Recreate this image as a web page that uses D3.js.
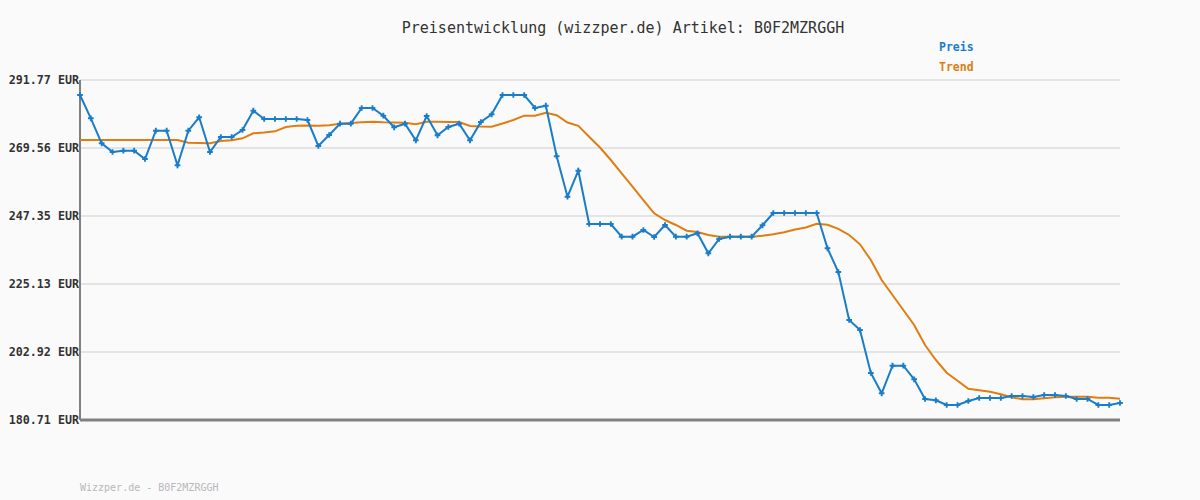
<!DOCTYPE html>
<html>
<head>
<meta charset="utf-8">
<script src="https://cdn.jsdelivr.net/npm/d3@7"></script>
<style>
  body { margin: 0; background: #fafafa; }
  svg { display: block; }
</style>
</head>
<body>
<div id="chart"></div>
<script>
// chart values
var title = "Preisentwicklung (wizzper.de) Artikel: B0F2MZRGGH";
var footer = "Wizzper.de - B0F2MZRGGH";
var yTicks = [180.71, 202.92, 225.13, 247.35, 269.56, 291.77];

var preis = [
  286.87, 279.26, 271.09, 268.25, 268.68, 268.68, 265.96, 275.21, 275.21, 263.91,
  275.21, 279.59, 268.25, 273.15, 273.15, 275.44, 281.74, 279.03, 279.03, 279.03,
  279.03, 278.70, 270.21, 273.80, 277.50, 277.50, 282.62, 282.62, 280.11, 276.32,
  277.50, 272.07, 280.01, 273.71, 276.42, 277.50, 272.07, 278.05, 280.57, 286.87,
  286.87, 286.87, 282.62, 283.38, 266.88, 253.65, 262.14, 244.73, 244.73, 244.73,
  240.58, 240.58, 242.77, 240.49, 244.41, 240.58, 240.58, 241.69, 235.16, 239.83,
  240.58, 240.58, 240.58, 244.31, 248.33, 248.33, 248.33, 248.33, 248.33, 236.79,
  229.05, 213.37, 210.11, 196.06, 189.43, 198.45, 198.45, 194.00, 187.57, 187.15,
  185.61, 185.61, 186.92, 187.90, 187.90, 187.90, 188.55, 188.55, 188.22, 188.88,
  188.88, 188.55, 187.57, 187.57, 185.61, 185.61, 186.27
];

var trend = [
  272.17, 272.17, 272.17, 272.17, 272.17, 272.17, 272.17, 272.17, 272.17, 272.17,
  271.29, 271.19, 271.09, 271.84, 272.07, 272.73, 274.36, 274.62, 275.01, 276.42,
  276.84, 276.91, 276.84, 276.97, 277.50, 277.72, 277.95, 278.15, 277.95, 277.89,
  277.82, 277.30, 278.15, 278.12, 278.08, 278.05, 276.74, 276.58, 276.52, 277.56,
  278.70, 280.11, 280.11, 281.09, 280.27, 277.89, 276.81, 273.25, 269.72, 265.64,
  261.29, 256.93, 252.57, 248.23, 246.04, 244.41, 242.54, 242.12, 241.14, 240.58,
  240.58, 240.58, 240.58, 240.91, 241.37, 242.02, 242.94, 243.59, 244.83, 244.50,
  243.16, 241.14, 238.10, 232.97, 226.44, 221.54, 216.64, 211.74, 205.21, 200.31,
  196.16, 193.54, 190.93, 190.41, 189.95, 189.11, 188.13, 187.47, 187.47, 187.80,
  188.13, 188.32, 188.32, 188.32, 188.00, 188.00, 187.67
];

var seriesNames = ["Preis", "Trend"];
var colors = ["#1a7dc9", "#e07d10"];

var svgWidth = 1200;
var svgHeight = 500;
var margin = { top: 80, right: 80, bottom: 80, left: 80 };
var w = svgWidth - margin.left - margin.right;
var h = svgHeight - margin.top - margin.bottom;
var mono = "'DejaVu Sans Mono', 'Liberation Mono', monospace";

var svg = d3.select("#chart")
    .append("svg")
    .attr("width", svgWidth)
    .attr("height", svgHeight)
    .style("background", "#fafafa");

var chart = svg.append("g")
    .attr("transform", "translate(" + margin.left + "," + margin.top + ")");

var xScale = d3.scaleLinear()
    .domain([0, preis.length - 1])
    .range([0, w]);

var yScale = d3.scaleLinear()
    .domain([yTicks[0], yTicks[yTicks.length - 1]])
    .range([h, 0]);

// grid lines
chart.selectAll(".grid")
    .data(yTicks.slice(1))
    .enter()
    .append("line")
    .attr("x1", 0)
    .attr("x2", w)
    .attr("y1", d => yScale(d))
    .attr("y2", d => yScale(d))
    .attr("stroke", "#e4e4e4")
    .attr("stroke-width", 2);

// y axis labels
var yAxis = d3.axisLeft(yScale)
    .tickValues(yTicks)
    .tickSize(0)
    .tickPadding(1)
    .tickFormat(d => d.toFixed(2) + " EUR");

var yg = chart.append("g").call(yAxis);
yg.select(".domain").remove();
yg.selectAll("text")
    .attr("font-family", mono)
    .attr("font-size", "11.7px")
    .attr("font-weight", "bold")
    .attr("fill", "#333");

// axis lines
chart.append("line")
    .attr("x1", 0).attr("x2", 0)
    .attr("y1", 0).attr("y2", h)
    .attr("stroke", "#808080")
    .attr("stroke-width", 2);

chart.append("line")
    .attr("x1", 0).attr("x2", w)
    .attr("y1", h).attr("y2", h)
    .attr("stroke", "#808080")
    .attr("stroke-width", 3);

// lines
var line = d3.line()
    .x((d, i) => xScale(i))
    .y(d => yScale(d));

chart.append("path")
    .datum(trend)
    .attr("fill", "none")
    .attr("stroke", colors[1])
    .attr("stroke-width", 2)
    .attr("d", line);

chart.append("path")
    .datum(preis)
    .attr("fill", "none")
    .attr("stroke", colors[0])
    .attr("stroke-width", 2)
    .attr("d", line);

// point markers
var cross = d3.symbol().type(d3.symbolCross).size(18);
chart.selectAll(".pt")
    .data(preis)
    .enter()
    .append("path")
    .attr("d", cross)
    .attr("transform", (d, i) => "translate(" + xScale(i) + "," + yScale(d) + ")")
    .attr("fill", colors[0]);

// title
svg.append("text")
    .attr("x", 623)
    .attr("y", 33)
    .attr("text-anchor", "middle")
    .attr("font-family", mono)
    .attr("font-size", "15px")
    .attr("fill", "#333")
    .text(title);

// legend
svg.selectAll(".legend")
    .data(seriesNames)
    .enter()
    .append("text")
    .attr("x", 939)
    .attr("y", (d, i) => 51 + i * 20)
    .attr("font-family", mono)
    .attr("font-size", "11.5px")
    .attr("font-weight", "bold")
    .attr("fill", (d, i) => colors[i])
    .text(d => d);

// footer
svg.append("text")
    .attr("x", 80)
    .attr("y", 491)
    .attr("font-family", mono)
    .attr("font-size", "10px")
    .attr("fill", "#b8b8b8")
    .text(footer);
</script>
</body>
</html>
